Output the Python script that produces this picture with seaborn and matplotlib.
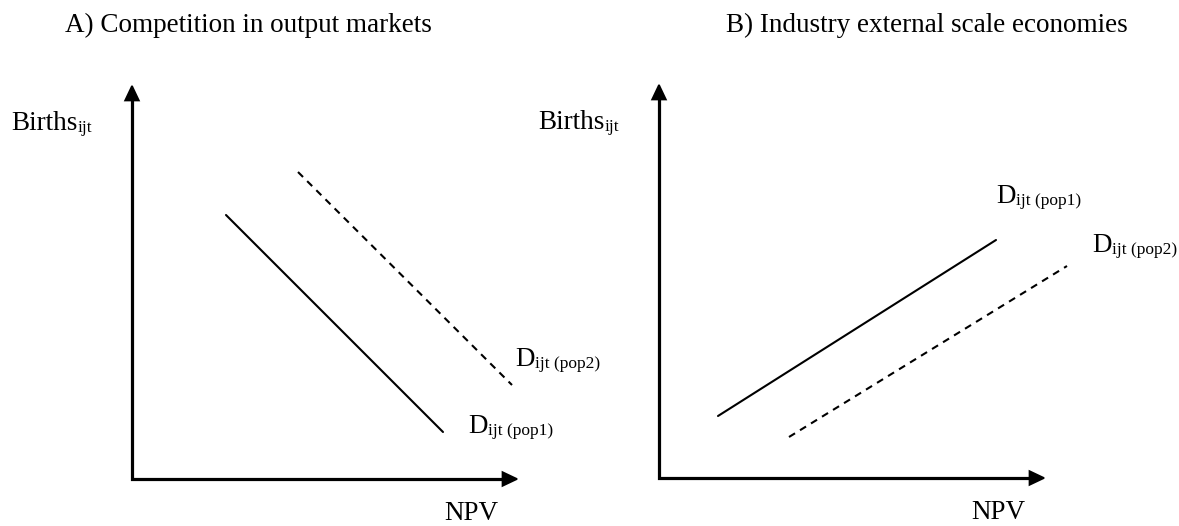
import matplotlib
matplotlib.use("Agg")
import matplotlib.pyplot as plt
import seaborn as sns

# schematic demand curves, in pixel-like units measured from each panel's origin
a_pop1_x = [94, 311]
a_pop1_y = [264, 47]
a_pop2_x = [166, 380]
a_pop2_y = [307, 94]

b_pop1_x = [59, 337]
b_pop1_y = [62, 238]
b_pop2_x = [130, 408]
b_pop2_y = [41, 212]

titles = ["A) Competition in output markets", "B) Industry external scale economies"]
y_label = "Births"
x_label = "NPV"
sub_yl = "ijt"
curve_main = "D"
sub_pop1 = "ijt (pop1)"
sub_pop2 = "ijt (pop2)"

sns.set_theme(style="white")
plt.rcParams["font.family"] = ["Liberation Serif", "DejaVu Serif"]

W, H = 1179, 526
fig = plt.figure(figsize=(W / 100, H / 100), dpi=100)
fig.patch.set_facecolor("white")

FS = 19.5
SUB = 12.5


def label(ax, x, y, main, sub):
    t = ax.text(x, y, main, fontsize=FS, ha="left", va="baseline", color="black")
    ax.annotate(sub, xy=(1, 0), xycoords=t, xytext=(0.5, 0), textcoords="offset points",
                fontsize=SUB, ha="left", va="bottom", color="black")
    return t


def panel(corner, curves, title_x, labels):
    cx, cy = corner
    size = 420
    ax = fig.add_axes([cx / W, (H - cy) / H, size / W, size / H])
    ax.set_xlim(0, size)
    ax.set_ylim(0, size)
    ax.set_axis_off()

    # axes drawn as an L plus two arrow heads
    ax.plot([0, 0, 378], [386, 0, 0], color="black", lw=2.3,
            solid_joinstyle="miter", solid_capstyle="butt", clip_on=False)
    arrow = dict(arrowstyle="-|>,head_length=0.8,head_width=0.38", mutation_scale=12.5,
                 lw=1.5, color="black", shrinkA=0, shrinkB=0, joinstyle="miter")
    ax.annotate("", xy=(387, 0), xytext=(372, 0), arrowprops=arrow, annotation_clip=False)
    ax.annotate("", xy=(0, 395), xytext=(0, 380), arrowprops=arrow, annotation_clip=False)

    for (xs, ys, dashed) in curves:
        sns.lineplot(x=xs, y=ys, ax=ax, color="black", lw=1.5, sort=False,
                     linestyle=(0, (3.4, 2.8)) if dashed else "-")

    fig.text(title_x / W, (H - 32) / H, labels["title"], fontsize=FS, ha="left",
             va="baseline", color="black")

    label(ax, -121, 349, y_label, sub_yl)
    ax.text(312, -41, x_label, fontsize=FS, ha="left", va="baseline", color="black")
    label(ax, *labels["pop1"], curve_main, sub_pop1)
    label(ax, *labels["pop2"], curve_main, sub_pop2)
    return ax


panel((132, 479),
      [(a_pop1_x, a_pop1_y, False), (a_pop2_x, a_pop2_y, True)],
      65,
      {"title": titles[0], "pop1": (336, 46), "pop2": (383, 113)})

panel((659, 478),
      [(b_pop1_x, b_pop1_y, False), (b_pop2_x, b_pop2_y, True)],
      726,
      {"title": titles[1], "pop1": (337, 275), "pop2": (433, 226)})

fig.savefig("out.png", dpi=100, facecolor="white")
